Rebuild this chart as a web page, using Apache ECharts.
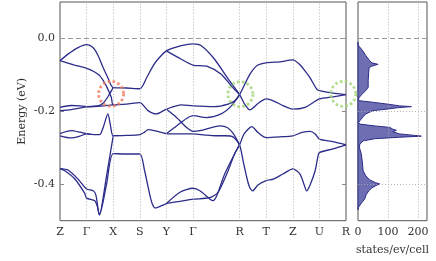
<!DOCTYPE html>
<html><head><meta charset="utf-8">
<script src="https://cdn.jsdelivr.net/npm/echarts@6/dist/echarts.min.js"></script>
<style>html,body{margin:0;padding:0;background:#fff}#c{width:436px;height:261px}</style>
</head><body><div id="c"></div>
<script>
const kpointPos = [0, 1, 2, 3, 4, 5, 6.75, 7.75, 8.75, 9.75, 10.75];
const kpointLabels = ['Z', 'Γ', 'X', 'S', 'Y', 'Γ', 'R', 'T', 'Z', 'U', 'R'];
const energyTicks = [-0.4, -0.2, 0.0];
const dosTicks = [0, 100, 200];

const bandT1 = [[0,-0.061],[0.30,-0.043],[0.68,-0.025],[1.0,-0.017],[1.24,-0.025],[1.43,-0.047],[1.62,-0.080],[1.80,-0.108],[2.0,-0.135],[2.5,-0.136],[3.0,-0.138],[3.26,-0.107],[3.50,-0.075],[3.68,-0.057],[4.0,-0.034],[4.56,-0.020],[5.0,-0.015],[5.31,-0.020],[5.81,-0.057],[6.32,-0.111],[6.75,-0.154],[6.94,-0.180],[7.14,-0.196],[7.45,-0.178],[7.75,-0.166],[8.02,-0.171],[8.40,-0.185],[8.75,-0.194],[9.21,-0.189],[9.75,-0.166],[10.26,-0.160],[10.75,-0.154]];
const bandT2 = [[0,-0.061],[0.55,-0.073],[1.0,-0.082],[1.25,-0.090],[1.49,-0.102],[1.74,-0.130],[1.93,-0.162],[2.0,-0.182],[2.5,-0.180],[3.0,-0.176],[3.31,-0.198],[3.62,-0.207],[4.0,-0.194],[4.56,-0.182],[5.0,-0.185],[5.81,-0.187],[6.32,-0.180],[6.57,-0.171],[6.75,-0.154],[7.14,-0.098],[7.41,-0.074],[7.75,-0.067],[8.27,-0.064],[8.75,-0.059],[9.02,-0.072],[9.21,-0.089],[9.40,-0.108],[9.65,-0.139],[9.75,-0.143],[10.26,-0.150],[10.75,-0.154]];
const bandT3 = [[4.0,-0.034],[4.56,-0.057],[5.0,-0.073],[5.56,-0.077],[6.06,-0.098],[6.47,-0.133],[6.75,-0.154]];
const bandLc = [[4.0,-0.261],[4.29,-0.245],[4.56,-0.230],[4.77,-0.219],[5.0,-0.212],[5.5,-0.217],[6.06,-0.207],[6.44,-0.185],[6.75,-0.154]];
const bandLa = [[4.0,-0.194],[4.29,-0.211],[4.56,-0.230],[4.77,-0.245],[5.0,-0.255],[5.26,-0.253],[6.02,-0.240],[6.3,-0.245],[6.52,-0.262],[6.75,-0.292]];
const bandF1 = [[0,-0.261],[0.42,-0.253],[0.75,-0.257],[1.0,-0.261],[1.3,-0.264],[1.49,-0.264],[1.62,-0.245],[1.80,-0.207],[1.90,-0.240],[2.0,-0.267],[2.5,-0.266],[3.0,-0.264],[3.18,-0.257],[3.31,-0.250],[3.62,-0.254],[4.0,-0.261],[4.51,-0.262],[5.0,-0.262],[5.45,-0.265],[5.83,-0.267],[6.2,-0.267],[6.5,-0.270],[6.75,-0.292],[6.88,-0.335],[7.0,-0.375],[7.11,-0.405],[7.24,-0.418],[7.44,-0.402],[7.75,-0.390],[8.02,-0.386],[8.38,-0.372],[8.75,-0.358],[9.02,-0.372],[9.17,-0.400],[9.27,-0.418],[9.40,-0.402],[9.59,-0.363],[9.70,-0.322],[9.75,-0.313],[10.26,-0.303],[10.75,-0.292]];
const bandF2 = [[0,-0.267],[0.42,-0.273],[0.75,-0.268],[1.0,-0.262],[1.15,-0.263]];
const bandE1 = [[0,-0.189],[0.42,-0.184],[0.75,-0.185],[1.0,-0.187],[1.43,-0.186],[2.0,-0.182]];
const bandE2 = [[0,-0.198],[0.42,-0.195],[0.68,-0.192],[1.0,-0.188],[1.43,-0.185],[1.62,-0.178],[1.80,-0.160],[2.0,-0.135]];
const bandV1 = [[0,-0.357],[0.30,-0.361],[0.68,-0.386],[1.0,-0.413],[1.25,-0.418],[1.35,-0.430],[1.48,-0.484],[1.75,-0.377],[2.0,-0.267]];
const bandV2 = [[0,-0.357],[0.18,-0.363],[0.55,-0.385],[0.93,-0.425],[1.0,-0.438],[1.31,-0.445],[1.40,-0.460],[1.48,-0.484],[1.75,-0.400],[2.0,-0.316],[2.5,-0.317],[3.0,-0.317],[3.18,-0.363],[3.37,-0.427],[3.47,-0.454],[3.58,-0.465],[4.0,-0.453],[4.51,-0.447],[5.0,-0.441],[5.63,-0.437],[5.94,-0.422],[6.32,-0.363],[6.57,-0.315],[6.75,-0.292],[6.92,-0.262],[7.21,-0.242],[7.44,-0.258],[7.75,-0.272],[8.27,-0.270],[8.75,-0.267],[9.10,-0.258],[9.40,-0.255],[9.59,-0.262],[9.75,-0.276],[10.26,-0.283],[10.75,-0.292]];
const bandG2 = [[4.0,-0.453],[4.51,-0.422],[5.0,-0.411],[5.26,-0.418],[5.64,-0.441],[5.75,-0.445],[5.9,-0.430],[6.19,-0.372],[6.69,-0.299],[6.75,-0.292]];

const dosEnergy = [-0.010,-0.017,-0.023,-0.034,-0.047,-0.061,-0.067,-0.071,-0.076,-0.080,-0.089,-0.116,-0.134,-0.143,-0.154,-0.163,-0.168,-0.171,-0.175,-0.181,-0.185,-0.187,-0.190,-0.194,-0.198,-0.207,-0.215,-0.226,-0.231,-0.235,-0.240,-0.244,-0.249,-0.252,-0.256,-0.262,-0.266,-0.268,-0.271,-0.275,-0.281,-0.290,-0.300,-0.317,-0.336,-0.363,-0.377,-0.388,-0.396,-0.399,-0.404,-0.410,-0.418,-0.429,-0.441,-0.451,-0.464,-0.470];
const dosStates = [0,0,5,16,26,39,46,67,46,37,36,34,34,26,12,3,2,6,49,106,139,178,132,95,50,26,17,6,2,6,56,106,116,128,116,139,189,211,139,56,17,6,5,11,14,17,26,39,59,72,59,46,36,27,22,12,1,0];

const redCircles = [[1.92,-0.152]];
const greenCircles = [[6.78,-0.153],[10.65,-0.152]];

const bands = [bandT1,bandT2,bandT3,bandLc,bandLa,bandF1,bandF2,bandE1,bandE2,bandV1,bandV2,bandG2];

const FONT = 'DejaVu Serif';
const TXT = '#333';
const LINE = '#2c2c8a';

const chart = echarts.init(document.getElementById('c'), null, {renderer:'canvas'});

function kLabel(v){
  const i = kpointPos.findIndex(p => Math.abs(p - v) < 1e-6);
  return i >= 0 ? kpointLabels[i] : '';
}

const series = [];
series.push({
  type:'line', xAxisIndex:0, yAxisIndex:0, data:[], z:1, silent:true,
  markLine:{
    silent:true, symbol:['none','none'], animation:false,
    label:{show:false},
    data: kpointPos.slice(1, -1).map(v => ({xAxis:v, lineStyle:{type:[1,2], color:'#aaa', width:0.9}}))
      .concat([{yAxis:0, lineStyle:{type:[5,3], color:'#999', width:1.2}}])
  }
});
series.push({
  type:'line', xAxisIndex:1, yAxisIndex:2, data:[], z:1, silent:true,
  markLine:{
    silent:true, symbol:['none','none'], animation:false,
    label:{show:false},
    data: dosTicks.slice(1).map(v => ({xAxis:v, lineStyle:{type:[1,2], color:'#aaa', width:0.9}}))
      .concat(energyTicks.slice(0,2).map(v => ({yAxis:v, lineStyle:{type:[1,2], color:'#aaa', width:0.9}})))
      .concat([{yAxis:0, lineStyle:{type:[5,3], color:'#999', width:1.2}}])
  }
});
bands.forEach(b => series.push({
  type:'line', xAxisIndex:0, yAxisIndex:0, data:b, showSymbol:false, symbol:'none',
  smooth:0.25, lineStyle:{color:LINE, width:1.3}, z:3, silent:true
}));
series.push({
  type:'custom', xAxisIndex:1, yAxisIndex:2, coordinateSystem:'cartesian2d', z:3,
  data: dosStates.map((v,i) => [v, dosEnergy[i]]),
  renderItem: function(params, api){
    if (params.dataIndex !== 0) return null;
    const pts = [api.coord([0, dosEnergy[0]])];
    for (let i = 0; i < dosStates.length; i++) pts.push(api.coord([dosStates[i], dosEnergy[i]]));
    pts.push(api.coord([0, dosEnergy[dosEnergy.length-1]]));
    return {type:'polygon', shape:{points:pts}, style:{fill:'#6e6eb2', stroke:LINE, lineWidth:1}};
  }
});
series.push({
  type:'scatter', xAxisIndex:0, yAxisIndex:0, data:redCircles, symbol:'circle', symbolSize:25, z:5,
  itemStyle:{color:'rgba(0,0,0,0)', borderColor:'#f07858', borderWidth:2.8, borderType:[2.6,2.4]}, silent:true
});
series.push({
  type:'scatter', xAxisIndex:0, yAxisIndex:0, data:greenCircles, symbol:'circle', symbolSize:25, z:5,
  itemStyle:{color:'rgba(0,0,0,0)', borderColor:'#9fd372', borderWidth:2.8, borderType:[2.6,2.4]}, silent:true
});

const option = {
  animation:false,
  backgroundColor:'#fff',
  grid:[
    {left:60, top:2, width:286, height:218.7, show:true, borderColor:'#555', borderWidth:1, backgroundColor:'rgba(0,0,0,0)'},
    {left:358, top:2, width:69, height:218.7, show:true, borderColor:'#555', borderWidth:1, backgroundColor:'rgba(0,0,0,0)'}
  ],
  xAxis:[
    {gridIndex:0, type:'value', min:0, max:10.75,
     axisLine:{show:false}, axisTick:{show:false}, splitLine:{show:false},
     axisLabel:{customValues:kpointPos, formatter:kLabel, showMinLabel:true, showMaxLabel:true, margin:6,
       fontFamily:FONT, fontSize:11, color:TXT}},
    {gridIndex:1, type:'value', min:0, max:230,
     axisLine:{show:false}, axisTick:{show:false}, splitLine:{show:false},
     axisLabel:{customValues:dosTicks, formatter:v => String(Math.round(v)), showMinLabel:true, showMaxLabel:true, margin:6,
       fontFamily:FONT, fontSize:11, color:TXT},
     name:'states/ev/cell', nameLocation:'middle', nameGap:24,
     nameTextStyle:{fontFamily:FONT, fontSize:11, color:TXT}},
  ],
  yAxis:[
    {gridIndex:0, type:'value', min:-0.5, max:0.1,
     axisLine:{show:false}, splitLine:{show:false},
     axisTick:{show:true, inside:true, length:4, customValues:energyTicks, lineStyle:{color:'#888'}},
     axisLabel:{customValues:energyTicks, formatter:v => v.toFixed(1), margin:5, fontFamily:FONT, fontSize:11, color:TXT},
     name:'Energy (eV)', nameLocation:'middle', nameGap:32, nameRotate:90, nameMoveOverlap:false,
     nameTextStyle:{fontFamily:FONT, fontSize:11, color:TXT}},
    {gridIndex:0, type:'value', min:-0.5, max:0.1, position:'right',
     axisLine:{show:false}, splitLine:{show:false}, axisLabel:{show:false},
     axisTick:{show:true, inside:true, length:4, customValues:energyTicks, lineStyle:{color:'#888'}}},
    {gridIndex:1, type:'value', min:-0.5, max:0.1,
     axisLine:{show:false}, splitLine:{show:false}, axisLabel:{show:false}, axisTick:{show:false}}
  ],
  series:series
};
chart.setOption(option);
</script>
</body></html>
